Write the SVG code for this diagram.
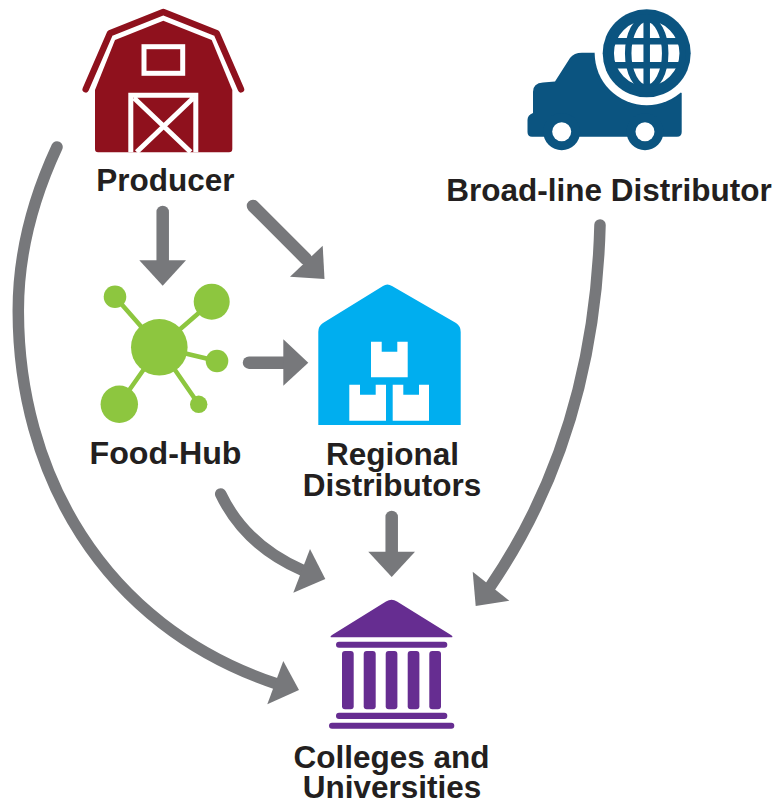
<svg xmlns="http://www.w3.org/2000/svg" width="772" height="805" viewBox="0 0 772 805">
<style>
text{font-family:"Liberation Sans",Arial,sans-serif;font-weight:700;font-size:31.500px;fill:#231f20;text-anchor:middle}
.l{fill:none;stroke:#77787b;stroke-width:12.500;stroke-linecap:round}
.n{stroke-width:11.500}
.h{fill:#77787b}
.w{fill:none;stroke:#fff;stroke-width:5}
.g{fill:none;stroke:#0b5480;stroke-width:6.500}
.p{fill:#662d91}
.c{fill:#8dc63f}
.s{stroke:#8dc63f;stroke-width:4.500}
</style>
<rect width="772" height="805" fill="#fff"/>
<g id="connectors">
<path class="l" d="M162.700 212V262"/><path class="h" d="M139.300 260.300H186L162.700 285.700Z"/>
<path class="l" d="M253 206L306 259"/><path class="h" d="M324.500 279L290 276.700L322.700 245.700Z"/>
<path class="l" d="M249 362.700H285"/><path class="h" d="M283.300 339.300L308.300 362.700L283.300 385.700Z"/>
<path class="l n" d="M220.700 494Q245 545 302 570"/><path class="h" d="M325.300 579L293.300 592.700L310 549Z"/>
<path class="l" d="M391.700 517V554"/><path class="h" d="M368.300 551.700H415L391.700 577Z"/>
<path class="l n" d="M600 225C597 340 570 470 490 587"/><path class="h" d="M475.700 606L472.700 571.700L509.300 600.700Z"/>
<path class="l n" d="M57 147C30 205 18 260 18.300 312C18.600 470 100 625 277 684"/><path class="h" d="M299 690L267.300 704.300L283.300 661Z"/>
</g>
<g id="producer">
<path d="M95 90L115 40L163.300 20.700L211.700 40L232.300 90V149Q232.300 152.300 229 152.300H98Q95 152.300 95 149Z" fill="#8f111d"/>
<path d="M85.700 89.300L110 33.300L163.300 12L216.700 33.300L241 89.300" fill="none" stroke="#8f111d" stroke-width="6.500" stroke-linecap="round" stroke-linejoin="round"/>
<rect class="w" x="144" y="46.700" width="38.700" height="26.600"/>
<path class="w" d="M130.800 152.300V95.200H195.800V152.300M134 98L190.700 152M193.300 98L136.700 152"/>
<text x="165.500" y="190.500">Producer</text>
</g>
<g id="broadline-distributor">
<path d="M527.500 120Q527.500 115 533 113V92Q533 83 543 82.500L555 81.500L570 58Q574 52.700 582 52.700H610L681.700 93V132Q681.700 136.700 677 136.700H532Q527.500 136.700 527.500 132Z" fill="#0b5480"/>
<circle cx="561.700" cy="131.700" r="18.500" fill="#0b5480"/><circle cx="645" cy="131.700" r="18.500" fill="#0b5480"/>
<circle cx="561.700" cy="131.700" r="9.500" fill="#fff"/><circle cx="645" cy="131.700" r="9.500" fill="#fff"/>
<circle cx="646.700" cy="53.300" r="52" fill="#fff"/>
<circle cx="646.700" cy="53.300" r="44" fill="#0b5480"/>
<circle cx="646.700" cy="53.300" r="34.500" fill="#fff"/>
<path class="g" d="M646.700 19V87.800M612 41.300H681.400M612 65.300H681.400"/>
<ellipse class="g" cx="646.700" cy="53.300" rx="18.500" ry="34.500"/>
<circle class="g" cx="646.700" cy="53.300" r="36"/>
<text x="609" y="201">Broad-line Distributor</text>
</g>
<g id="food-hub">
<path class="s" d="M159.300 347.300L115 296.700M159.300 347.300L211.700 301.700M159.300 347.300L217 361M159.300 347.300L119.300 404.300M159.300 347.300L198.700 404.300"/>
<circle class="c" cx="159.300" cy="347.300" r="28.300"/><circle class="c" cx="115" cy="296.700" r="11.300"/><circle class="c" cx="211.700" cy="301.700" r="18"/><circle class="c" cx="217" cy="361" r="11.300"/><circle class="c" cx="119.300" cy="404.300" r="18.700"/><circle class="c" cx="198.700" cy="404.300" r="8.700"/>
<text x="165.500" y="463.500" style="font-size:32.200px">Food-Hub</text>
</g>
<g id="regional-distributors">
<path d="M318.300 425V332Q318.300 326 323 323L383 286Q387.300 283 392 286L456 323Q460.700 326 460.700 332V425Z" fill="#00aeef"/>
<path fill="#fff" d="M371 341.700H381.700V351.700H397.300V341.700H407.700V377.300H371ZM349.300 384.700H360V394.700H375.700V384.700H386V420.700H349.300ZM392.700 384.700H403.300V394.700H419V384.700H429V420.700H392.700Z"/>
<text><tspan x="392.500" y="464.500">Regional</tspan><tspan x="392" y="496">Distributors</tspan></text>
</g>
<g id="colleges-and-universities">
<path class="p" d="M332 637.300H451Q454 637.300 451 635L397 601.500Q391.700 598 386 601.500L332 635Q329 637.300 332 637.300Z"/>
<rect class="p" x="336" y="641.700" width="111.300" height="6" rx="3"/>
<rect class="p" x="342" y="651" width="11.700" height="58.300" rx="3"/><rect class="p" x="363.700" y="651" width="12" height="58.300" rx="3"/><rect class="p" x="385.700" y="651" width="11.700" height="58.300" rx="3"/><rect class="p" x="407.700" y="651" width="11.700" height="58.300" rx="3"/><rect class="p" x="429.300" y="651" width="11.700" height="58.300" rx="3"/>
<rect class="p" x="336" y="712.700" width="111.300" height="6.300" rx="3"/>
<rect class="p" x="329" y="722.700" width="125.300" height="6" rx="3"/>
<text><tspan x="391.500" y="767.500">Colleges and</tspan><tspan x="392" y="798">Universities</tspan></text>
</g>
</svg>
